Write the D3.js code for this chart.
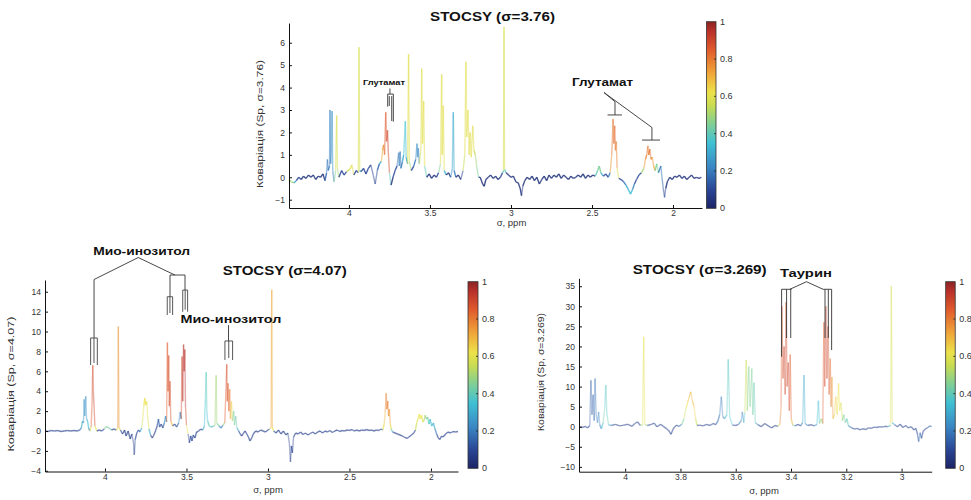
<!DOCTYPE html>
<html><head><meta charset="utf-8">
<script src="https://cdn.jsdelivr.net/npm/d3@7"></script>
<style>body{margin:0;background:#fff}svg{display:block}text{font-family:"Liberation Sans",Arial,sans-serif}</style>
</head><body><svg id="c" width="971" height="500"></svg>
<script>
// ---------- data ----------
const colorStops = [0, 0.1, 0.22, 0.35, 0.45, 0.55, 0.62, 0.72, 0.85, 0.95, 1];
const colorValues = ["#1c2466","#2a4696","#3a86c4","#3fc0d4","#7fcf96","#c8dc52","#ece24a","#f0a83a","#e05a2c","#b8302a","#8a2424"];
const colorTicks = [0, 0.2, 0.4, 0.6, 0.8, 1];
const xTicksWide = [4, 3.5, 3, 2.5, 2];
const xTicksNarrow = [4, 3.8, 3.6, 3.4, 3.2, 3];
const yTicks1 = [-1, 0, 1, 2, 3, 4, 5, 6];
const yTicks2 = [-4, -2, 0, 2, 4, 6, 8, 10, 12, 14];
const yTicks3 = [-10, -5, 0, 5, 10, 15, 20, 25, 30, 35];
const titles = ["STOCSY (σ=3.76)", "STOCSY (σ=4.07)", "STOCSY (σ=3.269)"];
const yLabels = ["Коваріація (Sp, σ=3.76)", "Коваріація (Sp, σ=4.07)", "Коваріація (Sp, σ=3.269)"];
const xLabel = "σ, ppm";

// spectra: [ppm, covariance, r²]
const spec1 = [
[4.37,-0.1,0.5],[4.355,-0.2,0.5],[4.34,-0.25,0.45],[4.325,-0.15,0.3],[4.31,0.0,0.1],[4.295,-0.1,0.05],[4.28,0.05,0.05],[4.265,-0.05,0.05],[4.25,0.1,0.05],[4.235,0.0,0.05],[4.22,0.1,0.05],[4.205,-0.1,0.05],[4.19,0.05,0.05],[4.175,0.0,0.05],[4.16,0.15,0.05],[4.148,-0.15,0.05],
[4.138,0.2,0.15],[4.133,0.8,0.2],[4.128,0.3,0.2],[4.12,0.5,0.2],[4.117,3.0,0.22],[4.113,0.6,0.2],[4.108,1.4,0.22],[4.104,2.95,0.25],[4.1,0.3,0.2],[4.092,-0.2,0.1],
[4.082,0.3,0.45],[4.076,2.75,0.58],[4.071,0.4,0.5],[4.062,0.0,0.1],[4.045,0.3,0.1],[4.03,0.1,0.1],[4.015,0.25,0.1],
[3.995,0.35,0.55],[3.982,0.55,0.6],[3.97,0.1,0.1],[3.955,0.3,0.1],
[3.942,0.2,0.3],[3.938,5.8,0.58],[3.934,0.3,0.3],
[3.925,0.25,0.1],[3.91,0.4,0.1],[3.895,0.15,0.05],[3.88,0.4,0.1],[3.865,0.55,0.1],[3.85,0.1,0.1],[3.838,-0.3,0.05],[3.825,0.3,0.1],[3.812,0.6,0.15],[3.8,0.7,0.3],
[3.792,1.2,0.72],[3.786,1.45,0.75],[3.78,1.0,0.8],[3.773,2.9,0.85],[3.768,1.6,0.88],[3.762,2.1,0.9],[3.757,1.1,0.88],[3.75,0.2,0.4],[3.74,-0.35,0.05],[3.728,0.0,0.05],[3.715,0.3,0.1],[3.703,0.5,0.1],
[3.693,1.1,0.2],[3.689,0.5,0.15],[3.684,1.15,0.2],[3.679,0.4,0.15],[3.67,0.7,0.2],[3.662,1.0,0.3],[3.652,2.5,0.35],[3.647,0.9,0.3],[3.638,0.6,0.45],[3.632,5.5,0.6],[3.627,0.7,0.5],
[3.615,0.3,0.1],[3.6,0.5,0.1],[3.588,0.8,0.2],[3.58,1.5,0.25],[3.576,0.9,0.2],[3.572,1.3,0.22],[3.566,0.6,0.3],
[3.556,1.2,0.55],[3.551,4.85,0.6],[3.546,1.5,0.58],[3.539,3.4,0.6],[3.533,0.5,0.4],
[3.52,0.0,0.05],[3.505,0.15,0.05],[3.49,-0.05,0.05],[3.475,0.1,0.05],[3.46,0.0,0.05],[3.447,0.2,0.1],
[3.435,0.6,0.45],[3.428,4.6,0.6],[3.424,1.0,0.55],[3.418,3.2,0.6],[3.412,0.3,0.3],
[3.4,0.1,0.05],[3.385,0.2,0.05],[3.372,0.0,0.05],[3.362,0.4,0.25],[3.356,2.9,0.3],[3.351,0.3,0.2],[3.34,0.0,0.05],[3.325,0.1,0.05],[3.31,-0.1,0.05],[3.296,0.3,0.1],
[3.285,1.0,0.55],[3.278,5.15,0.6],[3.273,1.8,0.58],[3.265,3.0,0.6],[3.258,1.0,0.55],[3.252,2.0,0.6],[3.245,0.9,0.55],[3.236,2.3,0.6],[3.228,1.2,0.55],[3.22,1.0,0.5],[3.212,0.5,0.45],[3.2,0.0,0.1],
[3.19,0.0,0.05],[3.175,-0.3,0.05],[3.165,-0.4,0.05],[3.155,-0.1,0.05],[3.14,0.0,0.05],[3.125,0.1,0.05],[3.11,-0.05,0.05],[3.095,0.05,0.05],[3.08,-0.1,0.05],[3.065,0.0,0.05],[3.052,0.2,0.1],
[3.046,0.3,0.4],[3.043,6.7,0.58],[3.04,0.35,0.4],
[3.03,0.2,0.05],[3.015,0.1,0.05],[3.0,0.0,0.05],[2.985,0.05,0.05],[2.97,-0.2,0.05],[2.955,-0.25,0.05],[2.943,-0.5,0.05],[2.935,-0.82,0.05],[2.927,-0.4,0.05],[2.915,-0.15,0.05],[2.9,0.0,0.05],
[2.885,-0.1,0.05],[2.87,0.05,0.05],[2.855,-0.15,0.05],[2.84,0.0,0.05],[2.825,-0.3,0.05],[2.81,-0.1,0.05],[2.795,0.05,0.05],[2.78,-0.15,0.05],[2.765,0.1,0.05],[2.75,-0.05,0.05],[2.735,0.1,0.05],[2.72,0.0,0.05],[2.705,0.15,0.05],[2.69,-0.05,0.05],[2.675,0.1,0.05],[2.66,0.0,0.05],[2.645,-0.1,0.05],[2.63,0.05,0.05],[2.615,-0.05,0.05],[2.6,0.0,0.05],[2.585,0.1,0.05],[2.57,0.0,0.05],[2.555,0.15,0.05],[2.54,-0.05,0.05],[2.525,0.1,0.05],[2.51,0.0,0.05],[2.495,0.1,0.05],[2.48,0.05,0.1],
[2.465,0.3,0.4],[2.455,0.5,0.45],[2.445,0.2,0.3],[2.43,0.05,0.1],[2.415,0.15,0.1],[2.4,0.0,0.1],[2.388,0.2,0.2],
[2.378,1.0,0.75],[2.37,2.6,0.8],[2.365,1.5,0.8],[2.36,2.3,0.82],[2.355,1.2,0.8],[2.35,1.6,0.78],[2.345,0.4,0.6],
[2.335,-0.05,0.1],[2.32,-0.1,0.1],[2.305,-0.2,0.2],[2.29,-0.35,0.3],[2.275,-0.55,0.35],[2.262,-0.75,0.38],[2.25,-0.55,0.35],[2.238,-0.3,0.2],[2.225,-0.1,0.1],[2.21,0.1,0.1],[2.195,0.2,0.1],[2.18,0.4,0.5],
[2.17,0.8,0.75],[2.162,1.0,0.78],[2.155,1.4,0.8],[2.15,1.0,0.8],[2.143,1.25,0.8],[2.136,0.8,0.78],[2.128,0.9,0.75],[2.12,0.5,0.7],[2.11,0.3,0.55],[2.1,0.6,0.45],[2.09,0.2,0.2],
[2.075,0.5,0.2],[2.068,0.0,0.15],[2.06,-0.5,0.1],[2.052,-0.9,0.1],[2.045,-0.5,0.1],[2.035,-0.2,0.05],[2.02,0.0,0.05],[2.005,-0.1,0.05],[1.99,0.05,0.05],[1.975,0.0,0.05],[1.96,0.1,0.05],[1.945,-0.05,0.05],[1.93,0.05,0.05],[1.915,-0.1,0.05],[1.9,0.0,0.05],[1.885,0.1,0.05],[1.87,-0.05,0.05],[1.855,0.0,0.05],[1.84,-0.05,0.05],[1.825,0.0,0.05]
];

const spec2 = [
[4.368,0.0,0.08],[4.35,-0.05,0.08],[4.33,0.05,0.08],[4.31,0.0,0.08],[4.29,0.05,0.08],[4.27,-0.05,0.08],[4.25,0.0,0.08],[4.23,0.05,0.08],[4.21,0.0,0.08],[4.19,0.05,0.08],[4.17,0.0,0.08],[4.155,0.1,0.1],[4.145,0.3,0.2],
[4.138,1.0,0.3],[4.132,0.8,0.3],[4.128,3.2,0.25],[4.124,1.5,0.3],[4.118,3.5,0.25],[4.113,1.2,0.3],[4.107,1.0,0.35],[4.1,0.3,0.2],[4.093,0.0,0.1],
[4.085,0.4,0.6],[4.079,3.0,0.85],[4.075,6.6,0.88],[4.071,3.9,0.92],[4.067,2.5,0.9],[4.062,0.5,0.6],
[4.05,0.0,0.1],[4.035,0.1,0.08],[4.02,0.0,0.08],[4.005,0.2,0.1],[3.99,0.45,0.45],[3.975,0.3,0.4],[3.96,0.1,0.1],[3.945,0.2,0.1],[3.93,0.1,0.1],
[3.922,0.3,0.6],[3.918,10.5,0.75],[3.914,0.3,0.6],
[3.905,0.1,0.1],[3.892,-0.3,0.08],[3.88,0.1,0.08],[3.87,-0.5,0.08],[3.858,0.0,0.08],[3.845,-0.8,0.08],[3.835,-0.3,0.08],[3.825,-1.2,0.08],[3.82,-2.4,0.08],[3.815,-0.9,0.08],[3.805,-0.2,0.08],[3.795,0.1,0.1],[3.785,-0.1,0.1],[3.775,0.3,0.3],
[3.768,1.2,0.55],[3.762,2.5,0.6],[3.756,3.3,0.62],[3.75,2.6,0.6],[3.744,3.0,0.62],[3.738,1.5,0.58],[3.73,0.2,0.3],
[3.72,-0.4,0.08],[3.71,-0.7,0.08],[3.7,-0.4,0.08],[3.69,0.0,0.08],[3.68,0.5,0.1],[3.672,1.2,0.15],[3.665,0.4,0.1],[3.655,0.7,0.1],[3.645,0.3,0.1],[3.636,0.8,0.15],[3.628,1.5,0.25],[3.622,0.9,0.5],
[3.617,8.9,0.85],[3.613,4.0,0.88],[3.609,7.6,0.88],[3.605,2.5,0.85],[3.601,5.0,0.88],[3.596,1.0,0.7],
[3.585,0.5,0.15],[3.572,0.7,0.1],[3.56,0.4,0.1],[3.548,0.8,0.15],[3.538,1.9,0.22],[3.532,1.2,0.3],
[3.527,7.5,0.9],[3.523,3.0,0.92],[3.518,8.7,0.95],[3.514,6.0,0.95],[3.51,8.2,0.95],[3.506,2.5,0.9],[3.5,0.6,0.6],
[3.49,-0.3,0.08],[3.482,-1.2,0.1],[3.474,-0.5,0.1],[3.466,-1.0,0.1],[3.458,-0.4,0.1],[3.448,-0.7,0.1],[3.438,-0.1,0.08],[3.425,0.0,0.08],[3.412,0.2,0.08],[3.4,0.1,0.1],[3.39,0.5,0.3],
[3.384,3.2,0.35],[3.379,5.9,0.38],[3.375,2.0,0.35],[3.37,1.0,0.4],[3.36,0.5,0.4],[3.348,0.4,0.3],[3.335,0.5,0.3],[3.325,0.6,0.45],
[3.318,5.6,0.5],[3.314,0.8,0.45],[3.3,0.5,0.2],[3.288,0.3,0.15],[3.276,0.6,0.2],[3.265,0.8,0.5],
[3.258,4.0,0.85],[3.253,6.7,0.88],[3.249,3.0,0.88],[3.245,4.8,0.85],[3.24,2.0,0.8],[3.235,4.2,0.8],[3.23,1.2,0.7],[3.224,3.0,0.65],[3.218,1.0,0.55],
[3.21,2.0,0.45],[3.205,0.6,0.4],[3.198,1.5,0.42],[3.19,0.3,0.3],[3.18,0.0,0.1],[3.17,-0.3,0.08],[3.16,-0.5,0.08],[3.15,-0.2,0.08],[3.14,0.0,0.08],[3.13,-0.3,0.08],[3.12,-0.6,0.08],[3.11,-1.0,0.08],[3.1,-0.7,0.08],[3.09,-0.3,0.08],[3.075,0.0,0.08],[3.06,-0.1,0.08],[3.045,0.1,0.08],[3.03,0.0,0.08],[3.015,-0.1,0.08],[3.0,0.1,0.08],[2.99,0.2,0.1],
[2.981,0.3,0.6],[2.977,14.2,0.72],[2.973,0.4,0.6],
[2.965,0.0,0.08],[2.95,-0.2,0.08],[2.935,0.1,0.08],[2.92,-0.3,0.08],[2.905,0.0,0.08],[2.89,-0.4,0.08],[2.878,-0.2,0.08],[2.868,-1.3,0.08],[2.862,-3.1,0.08],[2.856,-1.5,0.08],[2.85,-2.2,0.08],[2.843,-0.6,0.08],[2.83,-0.2,0.08],
[2.815,-0.3,0.08],[2.8,-0.1,0.08],[2.785,-0.35,0.08],[2.77,-0.2,0.08],[2.755,-0.4,0.08],[2.74,-0.25,0.08],[2.725,-0.1,0.08],[2.71,-0.3,0.08],[2.695,-0.1,0.08],[2.68,0.0,0.08],[2.665,-0.2,0.08],[2.65,0.0,0.08],[2.635,-0.1,0.08],[2.62,0.05,0.08],[2.605,-0.15,0.08],[2.59,0.0,0.08],[2.575,0.1,0.08],[2.56,-0.05,0.08],[2.545,0.05,0.08],[2.53,0.0,0.08],[2.515,0.1,0.08],[2.5,0.05,0.08],[2.485,0.15,0.08],[2.47,0.0,0.08],[2.455,0.1,0.08],[2.44,0.0,0.08],[2.425,0.1,0.08],[2.41,0.05,0.08],[2.395,0.15,0.08],[2.38,0.05,0.08],[2.365,0.1,0.08],[2.35,0.0,0.08],[2.335,0.1,0.08],[2.32,0.05,0.08],[2.305,0.2,0.1],[2.295,0.1,0.15],
[2.286,0.8,0.6],[2.28,2.0,0.7],[2.275,3.8,0.78],[2.27,2.2,0.78],[2.265,3.0,0.78],[2.26,1.5,0.75],[2.255,2.2,0.75],[2.25,0.8,0.65],[2.244,0.2,0.4],
[2.235,-0.1,0.1],[2.22,-0.2,0.08],[2.205,-0.3,0.08],[2.19,-0.4,0.08],[2.175,-0.5,0.08],[2.16,-0.65,0.08],[2.148,-0.75,0.08],[2.135,-0.6,0.08],[2.12,-0.4,0.08],[2.105,-0.2,0.08],[2.095,0.1,0.1],
[2.088,0.8,0.55],[2.08,1.2,0.6],[2.072,1.7,0.62],[2.065,1.2,0.6],[2.058,1.6,0.62],[2.05,0.9,0.58],[2.042,1.1,0.55],[2.035,1.6,0.5],[2.028,1.2,0.45],[2.02,1.4,0.42],[2.012,0.7,0.38],[2.005,1.2,0.35],[1.995,0.5,0.3],[1.985,0.8,0.3],[1.975,0.2,0.2],
[1.965,-0.3,0.1],[1.955,-0.7,0.08],[1.945,-0.85,0.08],[1.935,-0.5,0.08],[1.925,-0.6,0.08],[1.91,-0.3,0.08],[1.895,-0.1,0.08],[1.88,-0.2,0.08],[1.865,-0.05,0.08],[1.85,-0.1,0.08],[1.834,-0.05,0.08]
];

const spec3 = [
[4.167,0.0,0.08],[4.155,-0.2,0.08],[4.145,0.1,0.08],[4.135,-0.3,0.08],[4.128,0.3,0.1],
[4.124,11.6,0.15],[4.12,3.0,0.15],[4.116,8.0,0.15],[4.112,1.5,0.15],[4.109,12.0,0.18],[4.105,3.0,0.2],[4.1,1.0,0.2],[4.096,3.7,0.22],[4.092,0.5,0.2],[4.086,-0.5,0.1],[4.08,1.0,0.35],
[4.074,4.5,0.42],[4.07,10.4,0.38],[4.066,3.0,0.4],[4.06,0.5,0.3],
[4.05,0.3,0.08],[4.035,0.6,0.08],[4.02,0.2,0.08],[4.005,0.4,0.08],[3.99,0.6,0.08],[3.975,0.1,0.08],[3.965,0.8,0.1],[3.955,1.2,0.1],[3.945,0.3,0.1],[3.937,0.5,0.5],
[3.933,22.4,0.6],[3.929,0.6,0.5],
[3.92,0.3,0.08],[3.905,0.6,0.08],[3.895,0.9,0.1],[3.885,0.0,0.08],[3.872,0.6,0.08],[3.862,0.1,0.08],[3.852,-0.4,0.08],[3.842,-1.0,0.08],[3.834,-1.9,0.08],[3.826,-0.5,0.08],[3.815,0.4,0.08],[3.805,0.1,0.08],[3.795,0.6,0.2],
[3.787,2.0,0.45],[3.78,4.5,0.55],[3.774,6.0,0.62],[3.768,7.5,0.66],[3.762,8.7,0.7],[3.757,6.5,0.68],[3.751,5.0,0.65],[3.745,2.0,0.55],[3.74,0.3,0.3],
[3.73,0.4,0.08],[3.718,0.2,0.08],[3.705,0.6,0.08],[3.693,0.3,0.08],[3.682,0.8,0.1],[3.672,0.5,0.1],[3.664,1.5,0.15],
[3.658,3.0,0.18],[3.652,7.5,0.2],[3.647,2.5,0.22],[3.64,2.0,0.3],[3.632,3.0,0.35],[3.627,16.8,0.38],[3.622,2.5,0.35],
[3.612,0.4,0.1],[3.6,0.3,0.08],[3.59,0.6,0.1],[3.58,1.5,0.2],[3.576,3.7,0.22],[3.571,1.0,0.3],[3.567,3.5,0.35],
[3.562,16.6,0.55],[3.558,4.0,0.5],[3.553,15.0,0.45],[3.548,5.0,0.42],[3.542,14.5,0.45],[3.538,3.0,0.4],[3.534,11.0,0.4],[3.529,1.0,0.3],
[3.52,0.5,0.08],[3.508,0.0,0.08],[3.495,0.8,0.08],[3.482,0.2,0.08],[3.47,-0.3,0.08],[3.458,0.3,0.08],[3.447,0.1,0.1],[3.44,0.6,0.55],
[3.436,5.0,0.8],[3.433,30.0,0.85],[3.429,12.0,0.88],[3.425,20.0,0.9],[3.421,8.0,0.9],[3.418,31.0,0.88],[3.414,10.0,0.9],[3.41,16.0,0.9],[3.406,4.0,0.85],[3.403,18.0,0.85],[3.399,2.0,0.7],[3.394,0.4,0.4],
[3.385,0.2,0.08],[3.375,0.6,0.08],[3.365,0.2,0.08],[3.358,1.0,0.2],[3.353,12.9,0.3],[3.349,0.8,0.25],[3.34,0.3,0.08],[3.328,0.5,0.08],[3.316,0.2,0.08],[3.306,0.6,0.25],
[3.301,6.5,0.35],[3.297,0.8,0.3],[3.29,2.0,0.5],[3.285,0.8,0.6],
[3.281,26.0,0.85],[3.278,10.0,0.88],[3.274,30.0,0.9],[3.27,12.0,0.9],[3.266,25.0,0.88],[3.262,8.0,0.85],[3.258,17.0,0.82],[3.255,5.0,0.78],[3.252,12.4,0.75],[3.248,2.0,0.7],
[3.243,3.0,0.65],[3.238,7.5,0.65],[3.233,3.0,0.62],[3.228,10.8,0.62],[3.224,4.0,0.6],[3.219,6.0,0.58],[3.214,1.5,0.5],[3.209,3.0,0.45],[3.204,1.0,0.4],[3.198,2.0,0.4],[3.192,0.2,0.2],
[3.18,-0.3,0.08],[3.17,-0.6,0.08],[3.16,-0.4,0.08],[3.15,-0.8,0.08],[3.14,-0.5,0.08],[3.13,-0.7,0.08],[3.12,-0.3,0.08],[3.11,-0.4,0.08],[3.1,-0.1,0.08],[3.09,-0.2,0.08],[3.08,0.0,0.08],[3.07,-0.1,0.08],[3.06,0.1,0.08],[3.05,0.0,0.08],[3.04,0.3,0.3],
[3.037,35.0,0.58],[3.034,1.0,0.3],
[3.025,0.5,0.08],[3.015,0.0,0.08],[3.005,0.6,0.08],[2.995,-0.2,0.08],[2.985,0.3,0.08],[2.975,-0.3,0.08],[2.965,0.0,0.08],[2.955,-0.8,0.1],[2.948,-0.4,0.1],[2.942,-2.0,0.15],[2.938,-3.7,0.18],[2.933,-1.5,0.15],[2.928,-2.9,0.15],[2.922,-1.2,0.12],[2.915,-0.6,0.1],[2.905,-0.2,0.1],[2.898,0.2,0.15],[2.891,0.0,0.15]
];

// annotations (data coordinates: ppm, covariance)
const notes1 = [{t:"Глутамат", ppm:3.784, cov:4.11, fs:7.5, len:42}, {t:"Глутамат", ppm:2.435, cov:4.05, fs:10.5, len:61}];
const lines1 = [
 [3.747,3.96,3.747,3.71],[3.761,3.71,3.726,3.71],[3.761,3.71,3.761,3.15],[3.726,3.71,3.726,2.48],[3.751,3.62,3.751,3.18],[3.736,3.62,3.736,2.51],
 [2.426,3.78,2.358,3.37],[2.358,3.37,2.358,2.78],[2.404,2.78,2.315,2.78],
 [2.426,3.78,2.13,2.22],[2.13,2.22,2.13,1.66],[2.191,1.66,2.08,1.66]
];
const boxes1 = [];
const notes2 = [{t:"Мио-инозитол", ppm:3.775, cov:17.74, fs:11, len:97}, {t:"Мио-инозитол", ppm:3.227, cov:10.85, fs:11, len:101}];
const lines2 = [
 [3.796,17.44,4.067,15.23],[4.067,15.23,4.067,9.35],
 [3.796,17.44,3.571,15.68],[3.601,15.68,3.509,15.68],[3.601,15.68,3.601,13.5],[3.509,15.68,3.509,14.17],
 [3.242,10.65,3.242,9.05]
];
const boxes2 = [[4.088,4.047,9.35,6.63],[3.618,3.585,13.5,11.66],[3.523,3.493,14.17,11.99],[3.264,3.217,9.05,7.14]];
const notes3 = [{t:"Таурин", ppm:3.346, cov:37.4, fs:11.5, len:52}];
const lines3 = [
 [3.344,36.13,3.404,34.24],[3.344,36.13,3.284,34.24],
 [3.434,34.24,3.398,34.24],[3.284,34.24,3.253,34.24],
 [3.434,34.24,3.434,17.44],[3.416,34.24,3.416,22.1],[3.401,34.24,3.401,22.1],
 [3.277,34.24,3.277,22.1],[3.265,34.24,3.265,22.1],[3.253,34.24,3.253,19.1]
];
const boxes3 = [];

// ---------- drawing ----------
const svg = d3.select("#c");
const color = d3.scaleLinear().domain(colorStops).range(colorValues).clamp(true);

const defs = svg.append("defs");
const grad = defs.append("linearGradient").attr("id","jet").attr("x1",0).attr("y1",1).attr("x2",0).attr("y2",0);
grad.selectAll("stop").data(colorStops).join("stop")
  .attr("offset", d => d).attr("stop-color", (d,i) => colorValues[i]);

const panels = [
 {spec:spec1, xTicks:xTicksWide, yTicks:yTicks1, title:titles[0], yLabel:yLabels[0],
  xDom:[4.37,1.821], yDom:[-1.37,6.88], xr:[289,702], yr:[208,23], op:0.85, opPeak:0.5,
  cb:{x:706.5,w:9.5,y0:21.7,y1:208.3}, tp:[492.5,20.7,125], yl:[263,124,128], xl:[511.5,226],
  notes:notes1, lines:lines1, boxes:boxes1},
 {spec:spec2, xTicks:xTicksWide, yTicks:yTicks2, title:titles[1], yLabel:yLabels[1],
  xDom:[4.368,1.834], yDom:[-4.07,15.18], xr:[45,458], yr:[471.5,280], op:0.65, opPeak:0.42,
  cb:{x:468,w:10,y0:281.7,y1:468.3}, tp:[284.7,275,124], yl:[13.5,384,135], xl:[268,493],
  notes:notes2, lines:lines2, boxes:boxes2},
 {spec:spec3, xTicks:xTicksNarrow, yTicks:yTicks3, title:titles[2], yLabel:yLabels[2],
  xDom:[4.167,2.891], yDom:[-11.21,36.98], xr:[579,931.7], yr:[471.7,278.3], op:0.55, opPeak:0.36,
  cb:{x:945.7,w:9.5,y0:281.7,y1:468.3}, tp:[699.7,273.5,134], yl:[543.5,372,118], xl:[764,494],
  notes:notes3, lines:lines3, boxes:boxes3}
];

panels.forEach(p => {
  const x = d3.scaleLinear().domain(p.xDom).range(p.xr);
  const y = d3.scaleLinear().domain(p.yDom).range(p.yr);
  const g = svg.append("g");

  // spectrum, segment-coloured by r²; steep (peak) segments drawn paler
  g.append("g").selectAll("line").data(d3.pairs(p.spec)).join("line")
    .attr("x1", d => x(d[0][0])).attr("y1", d => y(d[0][1]))
    .attr("x2", d => x(d[1][0])).attr("y2", d => y(d[1][1]))
    .attr("stroke", d => color((d[0][1] >= d[1][1] ? d[0] : d[1])[2]))
    .attr("stroke-width", 1.4)
    .attr("stroke-opacity", d => Math.abs(y(d[0][1]) - y(d[1][1])) > 8 ? p.opPeak : p.op);

  // axes
  const ax = g.append("g").attr("transform", `translate(0,${p.yr[0]})`)
    .call(d3.axisBottom(x).tickValues(p.xTicks).tickSizeInner(-3).tickSizeOuter(0).tickPadding(2).tickFormat(d3.format("~g")));
  const ay = g.append("g").attr("transform", `translate(${p.xr[0]},0)`)
    .call(d3.axisLeft(y).tickValues(p.yTicks).tickSizeInner(-3).tickSizeOuter(0).tickPadding(4).tickFormat(d3.format("~g")));
  [ax, ay].forEach(a => {
    a.attr("font-size", 8.5).attr("font-family", '"Liberation Sans",Arial,sans-serif');
    a.selectAll("text").attr("fill", "#333");
    a.select(".domain").attr("stroke", "#111");
    a.selectAll(".tick line").attr("stroke", "#111");
  });

  // labels
  g.append("text").attr("x", p.tp[0]).attr("y", p.tp[1]).attr("text-anchor", "middle")
    .attr("font-size", 12).attr("font-weight", "bold").attr("fill", "#111")
    .attr("textLength", p.tp[2]).attr("lengthAdjust", "spacingAndGlyphs").text(p.title);
  g.append("text").attr("transform", `translate(${p.yl[0]},${p.yl[1]}) rotate(-90)`)
    .attr("text-anchor", "middle").attr("font-size", 9.5).attr("fill", "#333")
    .attr("textLength", p.yl[2]).attr("lengthAdjust", "spacingAndGlyphs").text(p.yLabel);
  g.append("text").attr("x", p.xl[0]).attr("y", p.xl[1]).attr("text-anchor", "middle")
    .attr("font-size", 9.5).attr("fill", "#333").text(xLabel);

  // colorbar
  const cy = d3.scaleLinear().domain([0,1]).range([p.cb.y1, p.cb.y0]);
  g.append("rect").attr("x", p.cb.x).attr("y", p.cb.y0).attr("width", p.cb.w).attr("height", p.cb.y1 - p.cb.y0)
    .attr("fill", "url(#jet)").attr("stroke", "#333").attr("stroke-width", 0.8);
  g.append("g").selectAll("line").data(colorTicks.slice(1, -1)).join("line")
    .attr("x1", p.cb.x + p.cb.w - 2).attr("x2", p.cb.x + p.cb.w).attr("y1", d => cy(d)).attr("y2", d => cy(d))
    .attr("stroke", "#222").attr("stroke-width", 0.8);
  g.append("g").selectAll("text").data(colorTicks).join("text")
    .attr("x", p.cb.x + p.cb.w + 4).attr("y", d => cy(d) + 3)
    .attr("font-size", 9).attr("fill", "#333").text(d => d3.format("~g")(d));

  // annotations
  g.append("g").selectAll("line").data(p.lines).join("line")
    .attr("x1", d => x(d[0])).attr("y1", d => y(d[1])).attr("x2", d => x(d[2])).attr("y2", d => y(d[3]))
    .attr("stroke", "#333").attr("stroke-width", 0.9);
  const bx = g.append("g").selectAll("g").data(p.boxes).join("g");
  bx.append("path")
    .attr("d", d => `M${x(d[0])},${y(d[3])}V${y(d[2])}H${x(d[1])}V${y(d[3])}`)
    .attr("fill", "none").attr("stroke", "#444").attr("stroke-width", 0.9);
  bx.append("line")
    .attr("x1", d => (x(d[0]) + x(d[1])) / 2).attr("x2", d => (x(d[0]) + x(d[1])) / 2)
    .attr("y1", d => y(d[2])).attr("y2", d => y(d[3]) - 2)
    .attr("stroke", "#444").attr("stroke-width", 0.9);
  g.append("g").selectAll("text").data(p.notes).join("text")
    .attr("x", d => x(d.ppm)).attr("y", d => y(d.cov)).attr("text-anchor", "middle")
    .attr("font-size", d => d.fs).attr("font-weight", "bold").attr("fill", "#111")
    .attr("textLength", d => d.len).attr("lengthAdjust", "spacingAndGlyphs").text(d => d.t);
});
</script>
</body></html>
